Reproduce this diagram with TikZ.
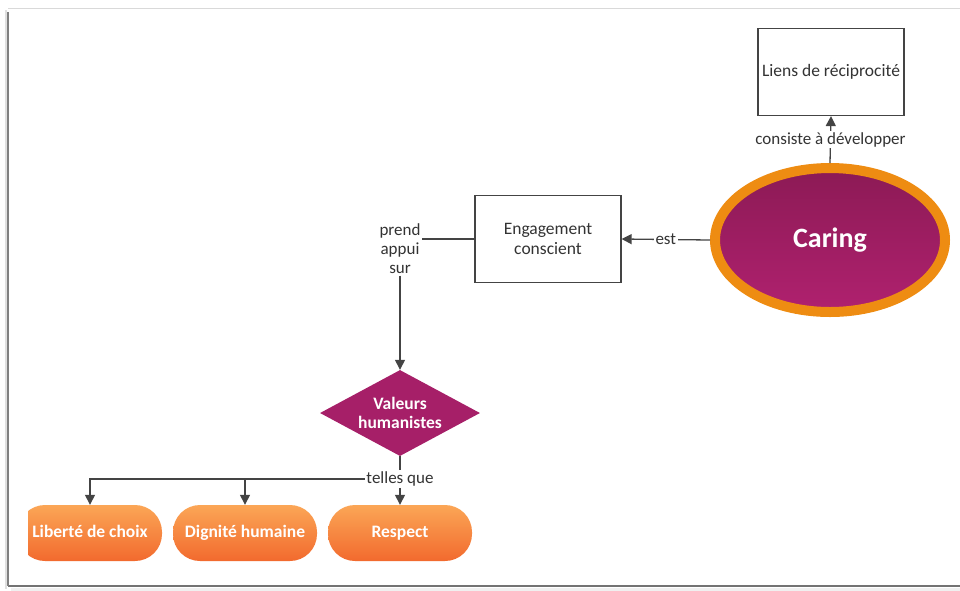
\documentclass[tikz,border=0pt]{standalone}
\usepackage{fontspec}
\setmainfont{Carlito}
\usetikzlibrary{arrows.meta,shapes.geometric}
\definecolor{linegray}{HTML}{444444}
\definecolor{txtgray}{HTML}{333333}
\definecolor{plum}{HTML}{A61F68}
\definecolor{plumdark}{HTML}{8C1A55}
\definecolor{plumlight}{HTML}{B0216F}
\definecolor{ring}{HTML}{EE8C12}
\definecolor{pilltop}{HTML}{FBA656}
\definecolor{pillbot}{HTML}{F26A2E}
\tikzset{
  conn/.style={draw=linegray, line width=1.3pt},
  arr/.style={conn, -{Triangle[length=10pt,width=10pt]}},
  lbl/.style={fill=white, inner sep=1.5pt, text=txtgray, font=\fontsize{17}{19}\selectfont},
  concept/.style={draw=linegray, line width=1.2pt, fill=white, minimum width=146pt,
    minimum height=87pt, align=center, text=txtgray, font=\fontsize{17.5}{20}\selectfont},
  pill/.style={rectangle, rounded corners=27pt, minimum width=144pt, minimum height=56pt,
    top color=pilltop, bottom color=pillbot, text=white, text height=12pt, text depth=3.5pt,
    font=\bfseries\fontsize{17.5}{20}\selectfont, inner sep=0pt},
}
\begin{document}
\begin{tikzpicture}[x=1pt, y=-1pt]
\useasboundingbox (0,0) rectangle (960,590);
% page frame with soft shadow
\fill[black!6] (11,588) rectangle (960,591);
\draw[black!12, line width=2pt] (6,10) -- (6,589);
\draw[black!15, line width=1pt] (8,8) -- (962,8);
\draw[black!55, line width=1.2pt] (8,586) -- (962,586);
\draw[black!50, line width=1.2pt] (8,12) -- (8,586);

% concept nodes
\node[concept] (liens) at (831,72) {Liens de réciprocité};
\node[concept] (eng) at (548,239) {Engagement\\conscient};
\node[ellipse, draw=ring, line width=10pt, minimum width=230pt, minimum height=144pt,
  inner sep=0pt, top color=plumdark, bottom color=plumlight, text=white,
  font=\bfseries\fontsize{28}{32}\selectfont] (caring) at (830,240) {Caring};
\node[diamond, fill=plum, minimum width=160pt, minimum height=86pt, inner sep=0pt,
  label={[align=center, text=white, font=\bfseries\fontsize{17.5}{19.5}\selectfont]center:Valeurs\\humanistes}]
  (val) at (400,413) {};

% value pills
\begin{scope}
  \clip (28,490) rectangle (960,575);
  \node[pill] (lib) at (90,533) {Liberté de choix};
\end{scope}
\node[pill] (dig) at (245,533) {Dignité humaine};
\node[pill] (resp) at (400,533) {Respect};

% linking phrases
\node[lbl, align=center, font=\fontsize{17}{19}\selectfont] (prend) at (400,249) {prend\\appui\\sur};
\node[lbl] (telles) at (400,479) {telles que};

% connectors
\draw[arr] (caring.north) -- node[lbl] {consiste à développer} (liens.south);
\draw[arr] (caring.west) -- node[lbl] {est} (eng.east);
\draw[conn] (eng.west) -- (prend.east |- eng.west);
\draw[arr] (prend.south) -- (val.north);
\draw[conn] (val.south) -- (telles.north);
\draw[arr] (telles.west) -| (lib.north);
\draw[arr] (dig.north |- telles.west) -- (dig.north);
\draw[arr] (telles.south) -- (resp.north);
\end{tikzpicture}
\end{document}
